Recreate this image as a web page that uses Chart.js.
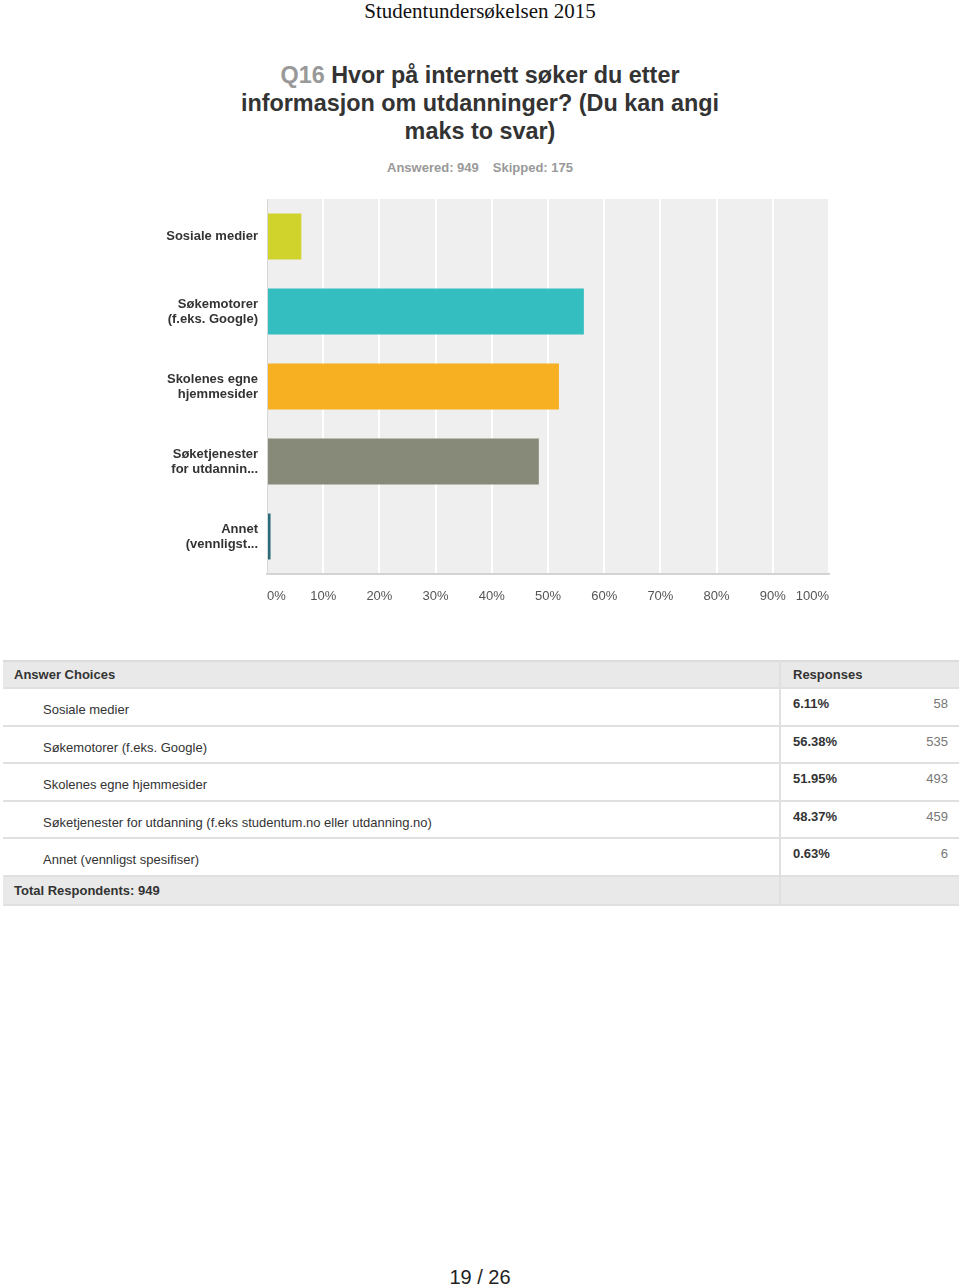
<!DOCTYPE html>
<html>
<head>
<meta charset="utf-8">
<script src="https://cdn.jsdelivr.net/npm/chart.js@4.4.1/dist/chart.umd.min.js"></script>
<style>
  html, body { margin: 0; padding: 0; background: #fff; }
  body { width: 960px; height: 1288px; position: relative; overflow: hidden; font-family: "Liberation Sans", Arial, sans-serif; }
  .doc { position: absolute; top: 0; left: 0; width: 960px; text-align: center; font-family: "Liberation Serif", "Times New Roman", serif; font-size: 21px; color: #111; line-height: 22px; }
  .q { position: absolute; top: 61px; left: 0; width: 960px; text-align: center; font-weight: bold; font-size: 23.4px; line-height: 28px; color: #333; }
  .q .num { color: #999; }
  .meta { position: absolute; top: 160px; left: 0; width: 960px; text-align: center; font-weight: bold; font-size: 13px; color: #999; }
  .meta span { margin: 0 7px; }
  #wrap { position: absolute; left: 0; top: 190px; width: 960px; height: 420px; }
  #tbl { position: absolute; left: 3px; top: 660px; width: 956px; height: 245px; font-size: 13px; color: #333; }
  .r { position: absolute; left: 0; width: 956px; box-sizing: border-box; border-bottom: 2px solid #e0e0e0; }
  .r.head { background: #e9e9e9; font-weight: bold; }
  .r span { position: absolute; white-space: nowrap; }
  .vline { position: absolute; left: 776px; top: 0; width: 2px; height: 244px; background: #e0e0e0; }
  .foot { position: absolute; top: 1266px; left: 0; width: 960px; text-align: center; font-size: 20px; color: #222; }
</style>
</head>
<body>
<div class="doc">Studentundersøkelsen 2015</div>
<div class="q"><span class="num">Q16</span> Hvor på internett søker du etter<br>informasjon om utdanninger? (Du kan angi<br>maks to svar)</div>
<div class="meta"><span>Answered: 949</span><span>Skipped: 175</span></div>
<div id="wrap"><canvas id="c" width="960" height="420"></canvas></div>
<div id="tbl"></div>
<div class="foot">19 / 26</div>
<script>
const categories = [
  ["Sosiale medier"],
  ["Søkemotorer", "(f.eks. Google)"],
  ["Skolenes egne", "hjemmesider"],
  ["Søketjenester", "for utdannin..."],
  ["Annet", "(vennligst..."]
];
const fullLabels = [
  "Sosiale medier",
  "Søkemotorer (f.eks. Google)",
  "Skolenes egne hjemmesider",
  "Søketjenester for utdanning (f.eks studentum.no eller utdanning.no)",
  "Annet (vennligst spesifiser)"
];
const percents = [6.11, 56.38, 51.95, 48.37, 0.63];
const counts = [58, 535, 493, 459, 6];
const totalRespondents = 949;
const xTicks = [0, 10, 20, 30, 40, 50, 60, 70, 80, 90, 100];

// table built from the arrays
const tbl = document.getElementById('tbl');
let html = '<div class="r head" style="top:0;height:29px;border-top:2px solid #dcdcdc"><span style="left:11px;top:5px">Answer Choices</span><span style="left:790px;top:5px">Responses</span></div>';
const rowTops = [29, 66.5, 104, 141.5, 179];
for (let i = 0; i < fullLabels.length; i++) {
  html += '<div class="r" style="top:' + rowTops[i] + 'px;height:37.5px">' +
    '<span style="left:40px;top:13px">' + fullLabels[i] + '</span>' +
    '<span style="left:790px;top:7px;font-weight:bold">' + percents[i].toFixed(2) + '%</span>' +
    '<span style="right:11px;top:7px;color:#777">' + counts[i] + '</span></div>';
}
html += '<div class="r head" style="top:216.5px;height:29px"><span style="left:11px;top:6px">Total Respondents: ' + totalRespondents + '</span></div>';
html += '<div class="vline"></div>';
tbl.innerHTML = html;

const bgPlugin = {
  id: 'plotBg',
  beforeDraw(chart) {
    const a = chart.chartArea, ctx = chart.ctx;
    ctx.save();
    ctx.fillStyle = '#efefef';
    ctx.fillRect(a.left, a.top, a.right - a.left, a.bottom - a.top);
    ctx.restore();
  }
};

new Chart(document.getElementById('c'), {
  type: 'bar',
  data: {
    labels: categories,
    datasets: [{
      data: percents,
      backgroundColor: ['#d0d32b', '#35bec0', '#f6b021', '#888a79', '#2b6a78'],
      borderWidth: 0,
      barPercentage: 0.613,
      categoryPercentage: 1.0
    }]
  },
  options: {
    indexAxis: 'y',
    responsive: false,
    animation: false,
    layout: { padding: { top: 9, right: 131, left: 0, bottom: 0 } },
    plugins: { legend: { display: false }, tooltip: { enabled: false } },
    scales: {
      x: {
        min: 0, max: 100,
        afterBuildTicks(scale) { scale.ticks = xTicks.map(v => ({ value: v })); },
        afterFit(scale) { scale.height = 36; scale.paddingLeft = 0; scale.paddingRight = 0; },
        grid: { color: '#ffffff', lineWidth: 2, drawTicks: false },
        border: { display: true, color: '#d3d3d3', width: 2 },
        ticks: {
          align: 'inner',
          padding: 15,
          color: '#555',
          font: { family: '"Liberation Sans", Arial, sans-serif', size: 13 },
          callback: v => v + '%'
        }
      },
      y: {
        afterFit(scale) { scale.width = 267; scale.paddingTop = 0; scale.paddingBottom = 0; },
        grid: { display: false, drawTicks: false },
        border: { display: true, color: '#d8d8d8', width: 1 },
        ticks: {
          padding: 9,
          color: '#333',
          font: { family: '"Liberation Sans", Arial, sans-serif', size: 13, weight: 'bold', lineHeight: 1.15 }
        }
      }
    }
  },
  plugins: [bgPlugin]
});
</script>
</body>
</html>
